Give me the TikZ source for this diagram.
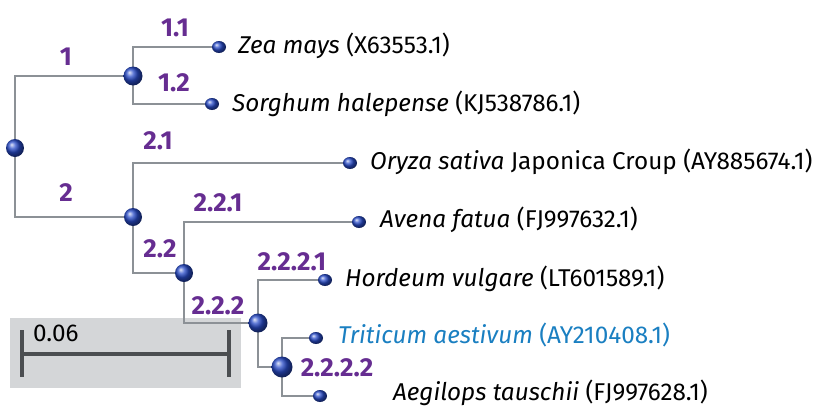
\documentclass[tikz,border=0pt]{standalone}
\usepackage{fontspec}
\setmainfont{Fira Sans}
\usetikzlibrary{shapes.geometric}
\definecolor{branch}{RGB}{140,145,150}
\definecolor{cladelbl}{RGB}{102,45,145}
\definecolor{sphere}{RGB}{40,75,200}
\definecolor{scalebg}{RGB}{212,214,216}
\definecolor{scalebar}{RGB}{75,78,81}
\definecolor{hilite}{RGB}{26,127,193}
\tikzset{
  edge/.style={draw=branch, line width=2.6pt},
  inner/.style={circle, inner sep=0pt, minimum size=19pt, ball color=sphere},
  leaf/.style={ellipse, inner sep=0pt, minimum width=14pt, minimum height=12pt, ball color=sphere},
  taxon/.style={anchor=base west, inner sep=0pt, font=\fontsize{24.3}{28}\selectfont},
  clade/.style={inner sep=0pt, text=cladelbl, font=\fontsize{26}{30}\selectfont\bfseries},
}
\begin{document}
\begin{tikzpicture}[x=1pt,y=-1pt]
\useasboundingbox (0,0) rectangle (818,407);

% scale bar
\fill[scalebg] (10,318) rectangle (241,388);
\coordinate (sbl) at (22,354);
\coordinate (sbr) at (229,354);
\draw[scalebar, line width=3.6pt] (22,330) -- (22,377) (229,330) -- (229,377);
\draw[scalebar, line width=3.6pt] (sbl) -- (sbr);
\node[anchor=west, inner sep=0pt, font=\fontsize{24.3}{28}\selectfont] (sblabel) at (33,333) {0.06};

% tree node positions
\coordinate (root) at (15,148);
\coordinate (n1) at (133,76);
\coordinate (n2) at (133,217);
\coordinate (n22) at (184,273);
\coordinate (n222) at (258,323);
\coordinate (n2222) at (282,367);
\coordinate (zea) at (219,47);
\coordinate (sorghum) at (212,104);
\coordinate (oryza) at (350,163);
\coordinate (avena) at (359,222);
\coordinate (hordeum) at (325,280);
\coordinate (triticum) at (316,338);
\coordinate (aegilops) at (320,396);

% branches
\draw[edge] (root) |- (n1);
\draw[edge] (root) |- (n2);
\draw[edge] (n1) |- (zea);
\draw[edge] (n1) |- (sorghum);
\draw[edge] (n2) |- (oryza);
\draw[edge] (n2) |- (n22);
\draw[edge] (n22) |- (avena);
\draw[edge] (n22) |- (n222);
\draw[edge] (n222) |- (hordeum);
\draw[edge] (n222) |- (n2222);
\draw[edge] (n2222) |- (triticum);
\draw[edge] (n2222) |- (aegilops);

% spheres
\node[inner, minimum size=18pt] at (root) {};
\node[inner] at (n1) {};
\node[inner, minimum size=18pt] at (n2) {};
\node[inner, minimum size=18pt] at (n22) {};
\node[inner] at (n222) {};
\node[inner, minimum size=21pt] at (n2222) {};
\foreach \p in {zea,sorghum,oryza,avena,hordeum,triticum,aegilops}
  \node[leaf] at (\p) {};

% taxa
\node[taxon] (tzea) at (238,53) {\textit{Zea mays} (X63553.1)};
\node[taxon] (tsorghum) at (232,111) {\textit{Sorghum halepense} (KJ538786.1)};
\node[taxon] (toryza) at (370,169) {\textit{Oryza sativa} Japonica Croup (AY885674.1)};
\node[taxon] (tavena) at (380,227) {\textit{Avena fatua} (FJ997632.1)};
\node[taxon] (thordeum) at (345,286) {\textit{Hordeum vulgare} (LT601589.1)};
\node[taxon, text=hilite] (ttriticum) at (338,343) {\textit{Triticum aestivum} (AY210408.1)};
\node[taxon] (taegilops) at (393,400) {\textit{Aegilops tauschii} (FJ997628.1)};

% clade labels
\node[clade] (c1) at (66,57) {1};
\node[clade] (c11) at (175,28) {1.1};
\node[clade] (c12) at (174,83) {1.2};
\node[clade] (c2) at (66,193) {2};
\node[clade] (c21) at (158,141) {2.1};
\node[clade] (c22) at (160,249) {2.2};
\node[clade] (c221) at (218,203) {2.2.1};
\node[clade] (c222) at (218,306) {2.2.2};
\node[clade] (c2221) at (292,262) {2.2.2.1};
\node[clade] (c2222) at (337,368) {2.2.2.2};
\end{tikzpicture}
\end{document}
